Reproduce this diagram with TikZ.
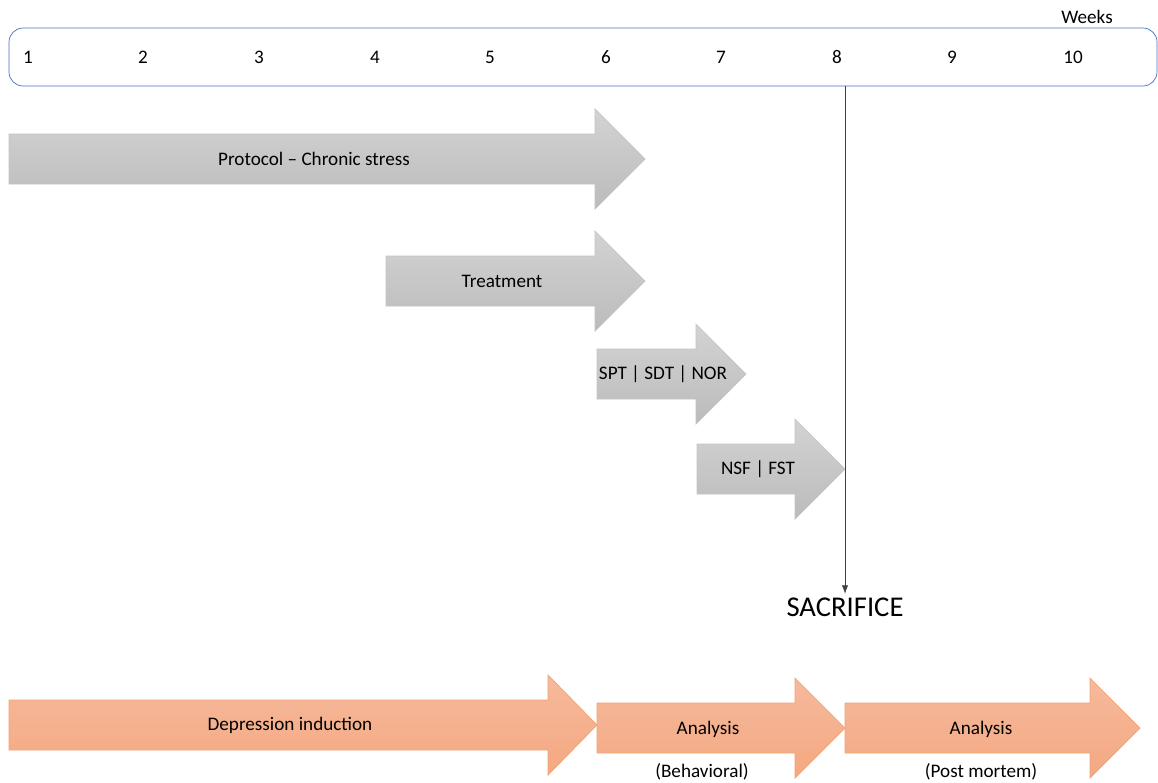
\documentclass[tikz,border=0pt]{standalone}
\usepackage{fontspec}
\setmainfont{Carlito}
\usepackage{tikz}
\usetikzlibrary{arrows.meta,calc}

\definecolor{barblue}{HTML}{4472C4}
\definecolor{greyedge}{HTML}{C4C4C4}
\definecolor{greytop}{HTML}{D3D3D3}
\definecolor{greybot}{HTML}{BBBBBB}
\definecolor{peachedge}{HTML}{F3A274}
\definecolor{peachtop}{HTML}{F6BA9C}
\definecolor{peachbot}{HTML}{F4A881}

% block arrow: style, x start, x head, x tip, y centre
\newcommand{\blockarrow}[5]{%
  \draw[#1] (#2,#5-25) -- (#3,#5-25) -- (#3,#5-50) -- (#4,#5)
    -- (#3,#5+50) -- (#3,#5+25) -- (#2,#5+25) -- cycle;}

\begin{document}
\begin{tikzpicture}[x=0.02cm,y=-0.02cm,>=Latex,
  font=\fontsize{10.9}{13}\selectfont,
  greyarrow/.style={draw=greyedge,top color=greytop,bottom color=greybot},
  peacharrow/.style={draw=peachedge,top color=peachtop,bottom color=peachbot},
  label/.style={inner sep=1pt}]
  \useasboundingbox (0,0) rectangle (1158,782);

  % week bar
  \node[draw=barblue,rounded corners=8pt,minimum width=1148*0.02cm,
    minimum height=58*0.02cm,inner sep=0pt] (bar) at (583,57) {};
  \foreach \w/\x in {1/28,2/143,3/259,4/375,5/490,6/606,7/721,8/837,9/952,10/1073} {
    \node[label] (w\w) at (\x,57) {\w};
  }
  \node[label] (weeks) at (1087,17) {Weeks};

  % grey arrows
  \blockarrow{greyarrow}{9}{595}{645}{159}
  \node[label] (stress) at (314,159) {Protocol – Chronic stress};
  \blockarrow{greyarrow}{386}{595}{645}{281}
  \node[label] (treat) at (502,281) {Treatment};
  \blockarrow{greyarrow}{597}{696}{746}{374}
  \node[label] (spt) at (663,374) {SPT | SDT | NOR};
  \blockarrow{greyarrow}{697}{795}{845}{469}
  \node[label] (nsf) at (758,469) {NSF | FST};

  % sacrifice
  \node[font=\fontsize{16.3}{19}\selectfont,inner sep=2pt] (sac) at (845,607) {SACRIFICE};
  \draw[->,black!75] (bar.south -| sac) -- (sac.north);

  % orange arrows
  \blockarrow{peacharrow}{9}{548}{597}{725}
  \node[label] (induct) at (290,725) {Depression induction};
  \blockarrow{peacharrow}{597}{795}{845}{728}
  \node[label] (behav) at (708,729) {Analysis};
  \node[label] (behavsub) at (702,772) {(Behavioral)};
  \blockarrow{peacharrow}{845}{1090}{1140}{728}
  \node[label] (post) at (981,729) {Analysis};
  \node[label] (postsub) at (981,772) {(Post mortem)};
\end{tikzpicture}
\end{document}
